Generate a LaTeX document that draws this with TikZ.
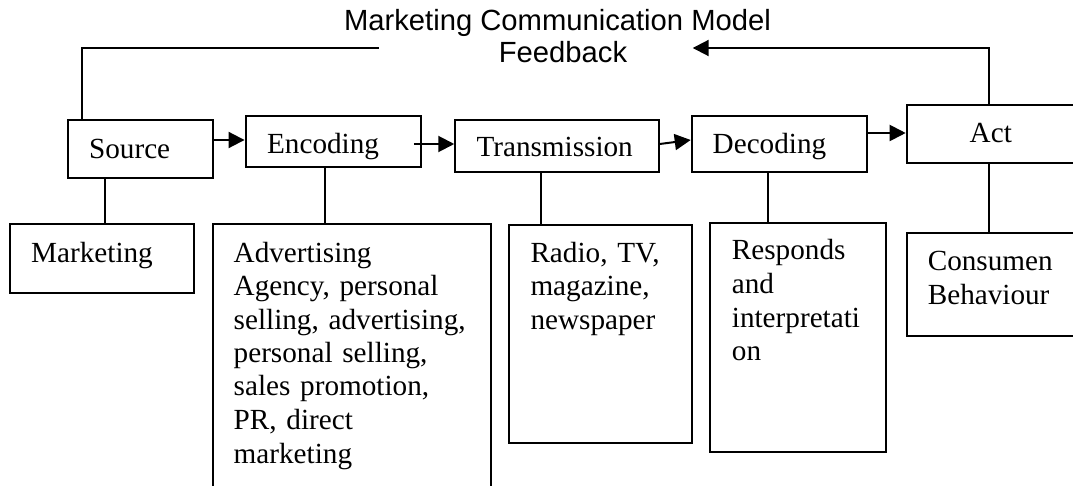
\documentclass[tikz,border=0pt]{standalone}
\usepackage{fontspec}
\setmainfont{Liberation Serif}
\newfontfamily\arialfont{Liberation Sans}
\usetikzlibrary{arrows.meta}
\begin{document}
\begin{tikzpicture}[x=1pt,y=-1pt,
  box/.style={draw, line width=2pt, rectangle, inner sep=0pt},
  lbl/.style={anchor=base west, inner sep=0pt, font=\fontsize{29.2}{33.5}\selectfont},
  mlbl/.style={lbl, text width=#1, align=left},
  ttl/.style={anchor=base, inner sep=0pt, font=\arialfont\fontsize{29.2}{32}\selectfont},
  conn/.style={line width=2pt},
  arr/.style={line width=2pt, -{Triangle[length=16pt,width=16pt]}}]
\useasboundingbox (0,0) rectangle (1073,486);
\clip (0,0) rectangle (1073,486);
% top row boxes
\node[box, minimum width=144.6pt, minimum height=58pt] (src) at (140.5,149) {};
\node[box, minimum width=175.3pt, minimum height=51pt] (enc) at (333.2,141.5) {};
\node[box, minimum width=203.5pt, minimum height=52pt] (trn) at (557,146) {};
\node[box, minimum width=175.2pt, minimum height=55.5pt] (dec) at (779.3,143.8) {};
\node[box, minimum width=171.3pt, minimum height=57.5pt] (act) at (992.35,134.2) {};
% bottom row boxes
\node[box, minimum width=183.9pt, minimum height=69pt] (mkt) at (102,258.5) {};
\node[box, minimum width=278pt, minimum height=271pt] (adv) at (351.8,359.5) {};
\node[box, minimum width=183.1pt, minimum height=218pt] (rad) at (600.6,334) {};
\node[box, minimum width=175.4pt, minimum height=229pt] (rsp) at (797.8,337.5) {};
\node[box, minimum width=171.3pt, minimum height=102.4pt] (con) at (992.35,284.5) {};
% texts
\node[lbl] (tsrc) at (88.9,158.3) {Source};
\node[lbl] (tenc) at (266.9,154) {Encoding};
\node[lbl] (ttrn) at (476.3,157) {Transmission};
\node[lbl] (tdec) at (712.5,154) {Decoding};
\node[lbl, anchor=base] (tact) at (990.8,143) {Act};
\node[lbl] (tmkt) at (31,262) {Marketing};
\node[mlbl=250pt] (tadv) at (233.5,262) {Advertising\\Agency, personal\\selling, advertising,\\personal selling,\\sales promotion,\\PR, direct\\marketing};
\node[mlbl=160pt] (trad) at (530.3,262) {Radio, TV,\\magazine,\\newspaper};
\node[mlbl=150pt] (trsp) at (731.7,260) {Responds\\and\\interpretati\\on};
\node[mlbl=140pt] (tcon) at (927.6,271) {Consumen\\Behaviour};
\node[ttl] (title) at (557.5,31) {Marketing Communication Model};
\node[ttl] (fb) at (563,63) {Feedback};
% arrows along the top row
\draw[arr] ([yshift=9pt]src.east) coordinate (a1) -- (a1 -| enc.west);
\draw[arr] ([xshift=-8pt,yshift=-2.5pt]enc.east) coordinate (a2) -- (a2 -| trn.west);
\draw[arr] ([yshift=2pt]trn.east) -- ([yshift=3.8pt]dec.west);
\draw[arr] ([yshift=10.8pt]dec.east) coordinate (a4) -- (a4 -| act.west);
% feedback
\coordinate (fbR) at (692.7,48);
\coordinate (fbL) at (378.8,48);
\draw[arr] ([xshift=-3.55pt]act.north) |- (fbR);
\draw[conn] ([xshift=-58.9pt]src.north) |- (fbL);
% vertical links
\draw[conn] ([xshift=-35.5pt]src.south) coordinate (v1) -- (v1 |- mkt.north);
\draw[conn] ([xshift=-8.4pt]enc.south) coordinate (v2) -- (v2 |- adv.north);
\draw[conn] ([xshift=-16pt]trn.south) coordinate (v3) -- (v3 |- rad.north);
\draw[conn] ([xshift=-11.6pt]dec.south) coordinate (v4) -- (v4 |- rsp.north);
\draw[conn] ([xshift=-3.55pt]act.south) coordinate (v5) -- (v5 |- con.north);
\end{tikzpicture}
\end{document}
